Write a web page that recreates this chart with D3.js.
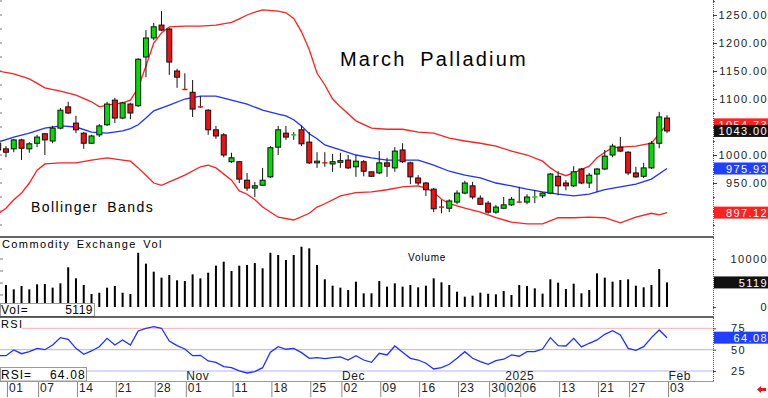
<!DOCTYPE html>
<html>
<head>
<meta charset="utf-8">
<script src="https://cdn.jsdelivr.net/npm/d3@7"></script>
<style>
  body { margin: 0; background: #fff; }
  svg { display: block; font-family: "Liberation Sans", Arial, sans-serif; }
</style>
</head>
<body>
<svg id="chart" width="768" height="398"></svg>
<script>
// trading days shown (first one is cut by the left edge)
const dates = [
  "2024-09-30",
  "2024-10-01","2024-10-02","2024-10-03","2024-10-04","2024-10-07","2024-10-08","2024-10-09","2024-10-10","2024-10-11",
  "2024-10-14","2024-10-15","2024-10-16","2024-10-17","2024-10-18","2024-10-21","2024-10-22","2024-10-23","2024-10-24",
  "2024-10-25","2024-10-28","2024-10-29","2024-10-30","2024-10-31",
  "2024-11-01","2024-11-04","2024-11-05","2024-11-06","2024-11-07","2024-11-08","2024-11-11","2024-11-12","2024-11-13",
  "2024-11-14","2024-11-15","2024-11-18","2024-11-19","2024-11-20","2024-11-21","2024-11-22","2024-11-25","2024-11-26",
  "2024-11-27","2024-11-29",
  "2024-12-02","2024-12-03","2024-12-04","2024-12-05","2024-12-06","2024-12-09","2024-12-10","2024-12-11","2024-12-12",
  "2024-12-13","2024-12-16","2024-12-17","2024-12-18","2024-12-19","2024-12-20","2024-12-23","2024-12-24","2024-12-26",
  "2024-12-27","2024-12-30","2024-12-31",
  "2025-01-02","2025-01-03","2025-01-06","2025-01-07","2025-01-08","2025-01-09","2025-01-10","2025-01-13","2025-01-14",
  "2025-01-15","2025-01-16","2025-01-17","2025-01-21","2025-01-22","2025-01-23","2025-01-24","2025-01-27","2025-01-28",
  "2025-01-29","2025-01-30","2025-01-31",
  "2025-02-03"
];

const opens = [1021,
  1011,1011,1027,1011,1021,1038,1025,1048,1086,1057,1039,1021,1036,1054,1098,1066,1091,1088,1175,1209,1232,1225,1150,
  1118,1112,1087,1080,1045,1036,988,988,955,941,946,961,1014,1039,1035,1045,1023,986,988,984,
  987,991,979,988,970,968,986,977,1009,986,959,950,939,908,905,916,932,945,923,914,898,
  905,911,917,916,924,927,932,962,950,945,975,950,966,975,1000,1014,1005,968,962,977,1021,
  1066];
const highs = [1027,
  1016,1029,1029,1023,1036,1039,1052,1084,1095,1070,1041,1036,1055,1095,1102,1095,1093,1173,1223,1236,1257,1227,1154,
  1146,1134,1105,1082,1052,1039,1004,989,968,952,977,1016,1052,1052,1041,1052,1041,1005,1005,1002,
  1004,1000,1000,991,971,1007,995,1014,1021,988,964,952,941,920,921,937,954,952,928,918,911,
  925,925,943,930,937,934,968,971,955,980,977,968,977,1009,1020,1032,1007,979,986,1025,1077,
  1071];
const lows = [1000,
  996,1005,991,1004,1014,1000,1021,1046,1073,1039,1011,1020,1032,1052,1057,1064,1064,1086,1139,1205,1221,1143,1120,
  1116,1068,1084,1036,1029,996,986,950,936,925,945,959,1000,1027,1027,1016,984,977,979,970,
  977,975,961,962,961,966,961,970,986,948,946,927,898,896,898,912,930,921,911,895,895,
  904,909,915,912,914,923,930,928,937,943,948,941,934,973,996,1005,964,959,959,975,1012,
  1039];
const closes = [1009,
  1005,1027,1012,1020,1032,1027,1048,1080,1075,1045,1021,1034,1052,1091,1066,1093,1075,1171,1209,1229,1223,1166,1139,
  1117,1082,1086,1045,1034,1000,995,957,941,945,955,1013,1045,1032,1036,1020,986,989,986,988,
  990,977,989,971,962,986,980,1007,988,961,950,938,904,907,918,932,950,925,912,898,907,
  911,921,916,925,925,932,966,945,945,970,950,964,975,998,1016,1007,968,961,977,1021,1068,
  1043];

const volumes = [4000,
  4580,3680,4380,3680,4720,4790,4030,4930,8270,5970,4580,2700,2980,4030,4380,2980,2700,11300,9030,7360,6110,6670,5560,
  5420,6800,5970,7150,8610,9440,7500,8610,8750,9170,8060,11300,10830,9790,10830,12560,12220,8750,5770,4440,
  4030,3540,5280,2850,2850,5420,4240,4930,4240,4580,4100,4440,5970,5140,4580,3190,2150,2360,2980,2780,2640,
  3330,2500,4580,4380,3890,2780,5770,5070,3750,4860,2850,3540,7010,6110,5280,5630,5770,4440,4100,4580,7920,
  5119];

const rsi = [43.0,
  43.0,49.6,45.3,47.7,51.6,50.0,55.5,64.1,62.2,51.6,44.6,48.5,53.5,63.3,55.5,61.4,55.5,71.9,75.1,76.9,75.1,60.2,54.7,
  50.8,43.0,43.4,36.8,35.2,30.1,28.9,25.1,22.7,24.2,28.9,47.0,53.5,50.5,51.6,46.5,39.9,40.6,39.5,40.6,
  41.5,37.9,43.0,37.9,35.2,45.8,43.8,54.3,47.0,39.9,37.9,34.1,27.4,28.9,32.9,39.9,47.7,39.9,35.9,32.9,37.1,
  38.8,43.8,42.3,47.7,47.7,50.8,64.1,54.7,54.3,63.3,53.2,57.5,61.4,68.0,72.2,67.2,51.6,49.3,53.5,64.1,73.1,
  64.08];

// bollinger bands: [day index, price]
const bbUpper = [[0,1150],[2,1145],[4,1136],[6,1120],[8,1114],[10,1107],[12,1095],[13,1086],[14,1089],[16,1093],[17,1098],
  [18,1120],[19,1159],[20,1200],[21,1218],[22,1229],[24,1230],[26,1230],[28,1232],[30,1237],[31,1243],[32,1250],[33,1255],
  [34,1259],[36,1257],[37,1254],[38,1244],[39,1220],[40,1188],[41,1146],[42,1125],[43,1100],[44,1086],[46,1061],[48,1048],
  [50,1046],[52,1046],[54,1041],[56,1039],[58,1030],[60,1025],[62,1021],[64,1016],[66,1007],[68,1000],[70,989],[71,977],
  [72,968],[73,963],[74,968],[76,980],[77,995],[78,1005],[79,1013],[80,1014],[82,1016],[84,1021],[85,1038],[86,1054.73]];
const bbMiddle = [[0,1023],[2,1032],[4,1039],[6,1048],[8,1052],[10,1050],[12,1041],[14,1039],[16,1043],[17,1047],[18,1054],
  [19,1066],[20,1079],[22,1089],[24,1100],[26,1105],[28,1105],[30,1098],[32,1091],[34,1080],[36,1073],[37,1070],[38,1063],
  [39,1052],[40,1038],[41,1029],[42,1018],[44,1009],[46,1000],[48,995],[50,991],[52,991],[54,991],[56,982],[58,971],[60,964],
  [62,959],[64,950],[66,945],[68,939],[70,934],[72,930],[74,927],[76,930],[78,938],[80,943],[82,948],[84,957],[86,975.93]];
const bbLower = [[0,895],[1,905],[2,920],[3,932],[4,950],[5,973],[6,984],[8,986],[10,986],[12,991],[14,995],[16,991],[17,989],
  [18,977],[19,964],[20,950],[21,946],[22,952],[24,964],[26,979],[27,982],[28,977],[30,955],[31,936],[32,930],[33,920],[34,907],
  [36,889],[38,884],[40,896],[41,907],[42,913],[44,927],[46,933],[48,934],[50,938],[52,943],[54,945],[55,941],[56,934],[57,921],
  [58,913],[60,905],[62,898],[64,888],[66,880],[68,877],[70,877],[72,888],[74,888],[76,889],[78,888],[80,879],[82,889],
  [84,896],[85,893],[86,897.12]];

// 900 and 1050 sit under the last-value flags, so only their tick marks show
const priceTicks = [950, 1000, 1100, 1150, 1200, 1250];
const volTicks = [0, 10000];
const rsiTicks = [25, 50, 75];
const dayTicks = ["2024-10-01","2024-10-07","2024-10-14","2024-10-21","2024-10-28","2024-11-01","2024-11-11","2024-11-18",
  "2024-11-25","2024-12-02","2024-12-09","2024-12-16","2024-12-23","2024-12-30","2025-01-02","2025-01-06","2025-01-13",
  "2025-01-21","2025-01-27","2025-02-03"];
const monthTicks = ["2024-11-01","2024-12-02","2025-01-02","2025-02-03"];
const monthNames = ["Nov","Dec","2025","Feb"];

const W = 768, H = 398, plotR = 713;
const green = "#00dd00", red = "#ee1111", blue = "#2030ff";

const svg = d3.select("#chart");

const x = d3.scalePoint().domain(dates).range([-1.8, 667]);
const yP = d3.scaleLinear().domain([853.6, 1276.8]).range([237, 0]);
const yV = d3.scaleLinear().domain([0, 14375]).range([307, 238]);
const yR = d3.scaleLinear().domain([13.3, 88.3]).range([381, 317]);

const defs = svg.append("defs");
defs.append("clipPath").attr("id", "clipMain").append("rect").attr("x", 0).attr("y", 0).attr("width", plotR).attr("height", 236);
defs.append("clipPath").attr("id", "clipVol").append("rect").attr("x", 0).attr("y", 238).attr("width", plotR).attr("height", 78);
defs.append("clipPath").attr("id", "clipRsi").append("rect").attr("x", 0).attr("y", 318).attr("width", plotR).attr("height", 63);

svg.append("rect").attr("width", W).attr("height", H).attr("fill", "#fff");

// ---------- main price panel ----------
const main = svg.append("g").attr("clip-path", "url(#clipMain)");

main.append("text")
  .attr("x", 340).attr("y", 66)
  .attr("font-size", 20).attr("letter-spacing", 2.2).attr("word-spacing", 6)
  .attr("fill", "#000")
  .text("March Palladium");

main.append("text")
  .attr("x", 31).attr("y", 212)
  .attr("font-size", 14).attr("letter-spacing", 1.4).attr("word-spacing", 4)
  .attr("fill", "#000")
  .text("Bollinger Bands");

const bandLine = d3.line()
  .x(d => x(dates[d[0]]))
  .y(d => yP(d[1]));

main.append("path").datum(bbUpper).attr("d", bandLine)
  .attr("fill", "none").attr("stroke", "#ff2020").attr("stroke-width", 1.3);
main.append("path").datum(bbLower).attr("d", bandLine)
  .attr("fill", "none").attr("stroke", "#ff2020").attr("stroke-width", 1.3);
main.append("path").datum(bbMiddle).attr("d", bandLine)
  .attr("fill", "none").attr("stroke", blue).attr("stroke-width", 1.3);

const candles = main.selectAll(".candle")
  .data(dates.map((d, i) => i))
  .enter().append("g").attr("class", "candle");

candles.append("line")
  .attr("x1", i => x(dates[i])).attr("x2", i => x(dates[i]))
  .attr("y1", i => yP(highs[i])).attr("y2", i => yP(lows[i]))
  .attr("stroke", "#111").attr("stroke-width", 1);

candles.append("rect")
  .attr("x", i => x(dates[i]) - 2.5)
  .attr("width", 5)
  .attr("y", i => {
    const h = Math.abs(yP(opens[i]) - yP(closes[i]));
    return h < 1.5 ? yP(closes[i]) - 0.75 : Math.min(yP(opens[i]), yP(closes[i]));
  })
  .attr("height", i => Math.max(1.5, Math.abs(yP(opens[i]) - yP(closes[i]))))
  .attr("fill", i => closes[i] >= opens[i] ? green : red)
  .attr("stroke", i => Math.abs(yP(opens[i]) - yP(closes[i])) < 1.5 ? "none" : "#111")
  .attr("stroke-width", 1);

// ---------- volume panel ----------
const vol = svg.append("g").attr("clip-path", "url(#clipVol)");

vol.append("text")
  .attr("x", 2).attr("y", 248)
  .attr("font-size", 11).attr("letter-spacing", 1.4).attr("word-spacing", 2)
  .attr("fill", "#000")
  .text("Commodity Exchange Vol");

vol.append("text")
  .attr("x", 408).attr("y", 261)
  .attr("font-size", 10).attr("letter-spacing", 0.8)
  .attr("fill", "#000")
  .text("Volume");

vol.selectAll(".vbar")
  .data(volumes)
  .enter().append("rect")
  .attr("class", "vbar")
  .attr("x", (d, i) => x(dates[i]) - 1)
  .attr("width", 2)
  .attr("y", d => yV(d))
  .attr("height", d => yV(0) - yV(d))
  .attr("fill", "#000");

[2500, 5000, 7500, 10000].forEach(v => {
  vol.append("line").attr("x1", 0).attr("x2", 3).attr("y1", yV(v)).attr("y2", yV(v))
    .attr("stroke", "#777");
});

const volBox = svg.append("g");
volBox.append("rect").attr("x", 0.5).attr("y", 303.5).attr("width", 94).attr("height", 13)
  .attr("fill", "#fff").attr("stroke", "#999");
volBox.append("text").attr("x", 1).attr("y", 314).attr("font-size", 12).attr("letter-spacing", 1)
  .text("Vol=");
volBox.append("text").attr("x", 93).attr("y", 314).attr("font-size", 12).attr("letter-spacing", 0.5)
  .attr("text-anchor", "end").text(volumes[volumes.length - 1]);

// ---------- RSI panel ----------
const rp = svg.append("g").attr("clip-path", "url(#clipRsi)");

[[75, "#ffb4b4"], [50, "#b8b8b8"], [25, "#b4b4ff"]].forEach(([v, c]) => {
  rp.append("line").attr("x1", 0).attr("x2", plotR).attr("y1", yR(v)).attr("y2", yR(v))
    .attr("stroke", c).attr("stroke-width", 1);
});

rp.append("rect").attr("x", 0).attr("y", 318).attr("width", 22).attr("height", 12).attr("fill", "#fff");
rp.append("text").attr("x", 1).attr("y", 328).attr("font-size", 11).attr("letter-spacing", 1.4).text("RSI");

rp.append("path").datum(rsi)
  .attr("d", d3.line().x((d, i) => x(dates[i])).y(d => yR(d)))
  .attr("fill", "none").attr("stroke", blue).attr("stroke-width", 1.3);

monthTicks.forEach((d, k) => {
  rp.append("text").attr("x", x(d) + 1.5).attr("y", 379.5)
    .attr("font-size", 12).attr("letter-spacing", 0.6).attr("fill", "#222")
    .text(monthNames[k]);
});

const rsiBox = svg.append("g");
rsiBox.append("rect").attr("x", 0.5).attr("y", 367.5).attr("width", 86).attr("height", 13.5)
  .attr("fill", "#fff").attr("stroke", "#999");
rsiBox.append("text").attr("x", 1).attr("y", 378.5).attr("font-size", 12).attr("letter-spacing", 1)
  .text("RSI=");
rsiBox.append("text").attr("x", 86).attr("y", 378.5).attr("font-size", 12).attr("letter-spacing", 1.2)
  .attr("text-anchor", "end").text(d3.format(".2f")(rsi[rsi.length - 1]));

// ---------- frame lines ----------
svg.append("line").attr("x1", 0).attr("x2", plotR + 1).attr("y1", 237).attr("y2", 237)
  .attr("stroke", "#333").attr("stroke-width", 1.6);
svg.append("line").attr("x1", 0).attr("x2", plotR + 1).attr("y1", 317).attr("y2", 317)
  .attr("stroke", "#333").attr("stroke-width", 1.6);
svg.append("line").attr("x1", 0).attr("x2", plotR + 1).attr("y1", 381.5).attr("y2", 381.5)
  .attr("stroke", "#999").attr("stroke-width", 1);
svg.append("line").attr("x1", plotR + 0.5).attr("x2", plotR + 0.5).attr("y1", 0).attr("y2", 381)
  .attr("stroke", "#555").attr("stroke-width", 1).attr("stroke-dasharray", "1,1");

// left edge small ticks on price panel
d3.range(875, 1276, 25).forEach(v => {
  svg.append("line").attr("x1", 0).attr("x2", 2).attr("y1", yP(v)).attr("y2", yP(v)).attr("stroke", "#777");
});

// ---------- right axes ----------
function styleAxis(g, dx, anchor) {
  g.select(".domain").remove();
  g.selectAll(".tick line").attr("stroke", "#444");
  g.selectAll(".tick text")
    .attr("x", dx).attr("text-anchor", anchor)
    .attr("font-size", 11).attr("letter-spacing", 1.4)
    .attr("font-family", "Liberation Sans, Arial, sans-serif")
    .attr("fill", "#222");
}

const minor = svg.append("g").attr("transform", `translate(${plotR},0)`)
  .call(d3.axisRight(yP).tickValues(d3.range(875, 1276, 25)).tickSize(2).tickFormat(""));
minor.select(".domain").remove();
minor.selectAll(".tick line").attr("stroke", "#666");

svg.append("g").attr("transform", `translate(${plotR},0)`)
  .call(d3.axisRight(yP).tickValues(priceTicks).tickSize(4).tickFormat(d3.format(".2f")))
  .call(g => styleAxis(g, 55, "end"));

svg.append("g").attr("transform", `translate(${plotR},0)`)
  .call(d3.axisRight(yV).tickValues(volTicks).tickSize(3).tickFormat(d3.format("d")))
  .call(g => styleAxis(g, 55, "end"));

svg.append("g").attr("transform", `translate(${plotR},0)`)
  .call(d3.axisRight(yR).tickValues(rsiTicks).tickSize(3).tickFormat(d3.format("d")))
  .call(g => styleAxis(g, 18, "start"));

// last-value flags
const flags = [
  { y: yP(bbUpper[bbUpper.length - 1][1]), text: d3.format(".2f")(bbUpper[bbUpper.length - 1][1]), bg: "#ff2020" },
  { y: yP(closes[closes.length - 1]), text: d3.format(".2f")(closes[closes.length - 1]), bg: "#111" },
  { y: yP(bbMiddle[bbMiddle.length - 1][1]), text: d3.format(".2f")(bbMiddle[bbMiddle.length - 1][1]), bg: "#2040ff" },
  { y: yP(bbLower[bbLower.length - 1][1]), text: d3.format(".2f")(bbLower[bbLower.length - 1][1]), bg: "#ff2020" },
  { y: yV(volumes[volumes.length - 1]), text: String(volumes[volumes.length - 1]), bg: "#111" },
  { y: yR(rsi[rsi.length - 1]), text: d3.format(".2f")(rsi[rsi.length - 1]), bg: "#2040ff" }
];
const fg = svg.append("g");
flags.forEach(f => {
  fg.append("rect").attr("x", plotR + 1).attr("y", f.y - 6).attr("width", W - plotR - 1).attr("height", 12)
    .attr("fill", f.bg);
  fg.append("text").attr("x", 768).attr("y", f.y + 4.5).attr("text-anchor", "end")
    .attr("font-size", 11).attr("letter-spacing", 1.4).attr("fill", "#fff")
    .text(f.text);
});

// ---------- bottom date axis ----------
const xa = svg.append("g").attr("transform", "translate(0,381)")
  .call(d3.axisBottom(x).tickValues(dayTicks).tickSize(15).tickFormat(d => d.slice(8)));
xa.select(".domain").remove();
xa.selectAll(".tick line").attr("stroke", "#888").attr("transform", "translate(1,1)");
xa.selectAll(".tick text")
  .attr("x", 2.5).attr("y", 2).attr("dy", "0.71em").attr("text-anchor", "start")
  .attr("font-size", 12).attr("letter-spacing", 0.6)
  .attr("font-family", "Liberation Sans, Arial, sans-serif")
  .attr("fill", "#222");

svg.append("path")
  .attr("d", "M757,389.5 L761,386 L761,388 L766,388 L766,391 L761,391 L761,393 Z")
  .attr("fill", "#ee1111");
</script>
</body>
</html>
